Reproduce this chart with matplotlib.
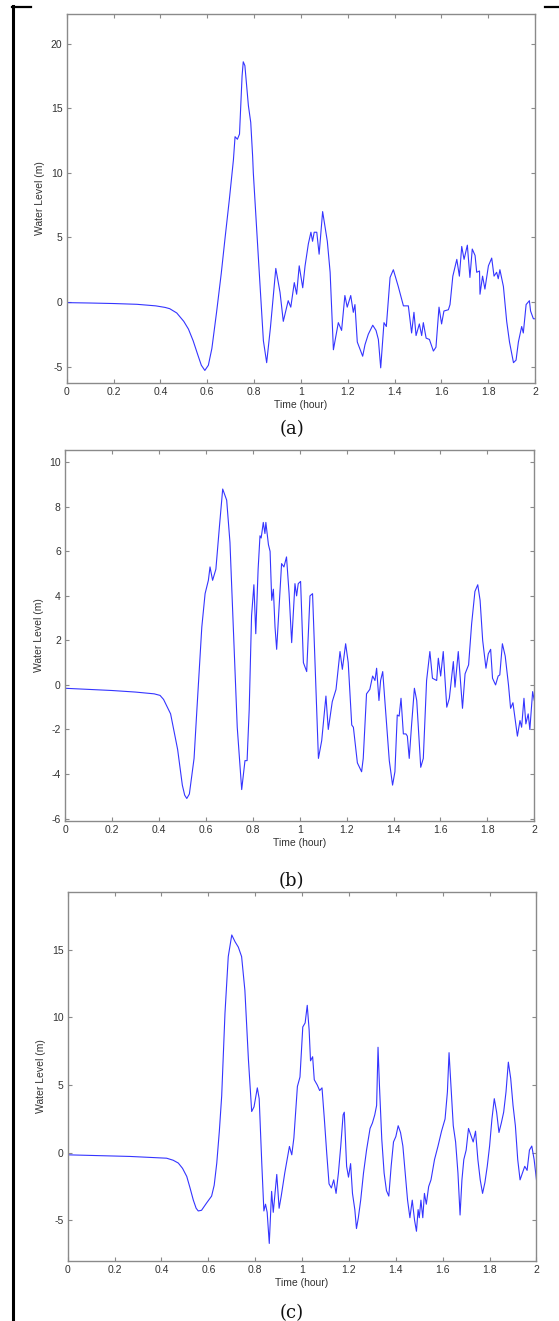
#!/usr/bin/env python3
"""Water level time series at three gauges, panels (a), (b), (c)."""

import matplotlib

matplotlib.use("Agg")
import matplotlib.pyplot as plt
from matplotlib.lines import Line2D

plt.rcParams["font.family"] = ["Liberation Sans", "DejaVu Sans"]
plt.rcParams["axes.unicode_minus"] = False

# ---- data (time in hours, water level in m) ----
t_a = [0.0, 0.1, 0.2, 0.3, 0.38, 0.42, 0.44, 0.47, 0.5, 0.52, 0.54, 0.56, 0.575,
       0.59, 0.605, 0.62, 0.64, 0.66, 0.676, 0.695, 0.712, 0.719, 0.729, 0.738,
       0.749, 0.754, 0.761, 0.776, 0.786, 0.794, 0.797, 0.82, 0.84, 0.854, 0.87,
       0.893, 0.911, 0.925, 0.946, 0.957, 0.972, 0.982, 0.993, 1.008, 1.018, 1.032,
       1.043, 1.05, 1.057, 1.068, 1.078, 1.093, 1.113, 1.125, 1.139, 1.16, 1.174,
       1.188, 1.198, 1.213, 1.224, 1.231, 1.241, 1.264, 1.274, 1.288, 1.307, 1.321,
       1.331, 1.341, 1.355, 1.365, 1.381, 1.395, 1.416, 1.438, 1.459, 1.473, 1.483,
       1.492, 1.506, 1.516, 1.523, 1.535, 1.549, 1.566, 1.577, 1.59, 1.601, 1.611,
       1.63, 1.637, 1.649, 1.666, 1.677, 1.687, 1.697, 1.711, 1.722, 1.732, 1.744,
       1.751, 1.763, 1.765, 1.776, 1.786, 1.801, 1.815, 1.825, 1.836, 1.843, 1.85,
       1.865, 1.879, 1.891, 1.908, 1.919, 1.929, 1.943, 1.95, 1.962, 1.976, 1.981,
       1.993, 2.0]
wl_a = [-0.05, -0.08, -0.12, -0.18, -0.3, -0.42, -0.52, -0.85, -1.5, -2.1, -3.0,
        -4.1, -4.9, -5.3, -4.9, -3.6, -0.8, 2.2, 4.9, 8.0, 11.0, 12.8, 12.6, 13.0,
        17.5, 18.6, 18.3, 15.2, 13.9, 11.3, 10.0, 3.0, -3.0, -4.7, -2.0, 2.6, 0.75,
        -1.5, 0.1, -0.4, 1.5, 0.6, 2.8, 1.1, 2.8, 4.5, 5.4, 4.7, 5.4, 5.4, 3.7, 7.0,
        4.7, 2.3, -3.7, -1.6, -2.2, 0.5, -0.4, 0.5, -0.8, -0.2, -3.1, -4.2, -3.3,
        -2.5, -1.8, -2.2, -2.9, -5.1, -1.6, -1.9, 1.9, 2.5, 1.2, -0.3, -0.3, -2.4,
        -0.8, -2.6, -1.7, -2.6, -1.6, -2.8, -2.9, -3.8, -3.5, -0.4, -1.7, -0.7, -0.6,
        -0.2, 2.0, 3.3, 2.0, 4.3, 3.3, 4.4, 1.9, 4.1, 3.6, 2.3, 2.4, 0.6, 2.0, 1.0,
        2.8, 3.4, 2.0, 2.3, 1.8, 2.5, 1.2, -1.5, -3.1, -4.7, -4.5, -3.1, -1.9, -2.4,
        -0.2, 0.1, -0.7, -1.3, -1.3]

t_b = [0.0, 0.2, 0.3, 0.38, 0.405, 0.42, 0.45, 0.48, 0.5, 0.51, 0.519, 0.53, 0.55,
       0.561, 0.583, 0.597, 0.611, 0.618, 0.629, 0.643, 0.658, 0.672, 0.689, 0.703,
       0.717, 0.734, 0.753, 0.767, 0.776, 0.785, 0.795, 0.805, 0.813, 0.823, 0.831,
       0.836, 0.845, 0.852, 0.856, 0.867, 0.874, 0.881, 0.888, 0.895, 0.902, 0.909,
       0.923, 0.933, 0.944, 0.955, 0.966, 0.98, 0.987, 0.994, 1.004, 1.016, 1.03,
       1.044, 1.055, 1.065, 1.08, 1.094, 1.112, 1.122, 1.139, 1.155, 1.172, 1.182,
       1.196, 1.207, 1.222, 1.229, 1.246, 1.264, 1.271, 1.285, 1.299, 1.311, 1.321,
       1.328, 1.338, 1.345, 1.354, 1.368, 1.382, 1.396, 1.406, 1.416, 1.424, 1.432,
       1.442, 1.453, 1.459, 1.467, 1.477, 1.489, 1.499, 1.516, 1.527, 1.541, 1.555,
       1.566, 1.584, 1.591, 1.601, 1.612, 1.627, 1.638, 1.655, 1.662, 1.676, 1.694,
       1.705, 1.72, 1.733, 1.747, 1.759, 1.769, 1.78, 1.794, 1.804, 1.814, 1.822,
       1.835, 1.846, 1.853, 1.864, 1.876, 1.89, 1.899, 1.909, 1.928, 1.939, 1.946,
       1.956, 1.964, 1.974, 1.981, 1.993, 2.0]
wl_b = [-0.15, -0.25, -0.32, -0.4, -0.47, -0.65, -1.3, -2.9, -4.5, -4.95, -5.1,
        -4.9, -3.3, -1.3, 2.6, 4.1, 4.7, 5.3, 4.7, 5.2, 7.1, 8.8, 8.3, 6.4, 2.6,
        -1.9, -4.7, -3.4, -3.4, -1.1, 3.1, 4.5, 2.3, 5.2, 6.7, 6.6, 7.3, 6.8, 7.3,
        6.3, 6.0, 3.8, 4.3, 2.6, 1.6, 2.9, 5.45, 5.3, 5.75, 4.1, 1.9, 4.55, 4.0,
        4.55, 4.65, 1.0, 0.6, 4.0, 4.1, 1.1, -3.3, -2.5, -0.5, -2.0, -0.75, -0.2,
        1.5, 0.7, 1.85, 1.0, -1.8, -1.9, -3.5, -3.9, -3.3, -0.4, -0.2, 0.4, 0.2,
        0.75, -0.7, 0.2, 0.6, -1.4, -3.4, -4.5, -3.9, -1.35, -1.4, -0.6, -2.2, -2.2,
        -2.3, -3.3, -1.8, -0.15, -0.7, -3.7, -3.3, 0.2, 1.5, 0.3, 0.2, 1.2, 0.4, 1.5,
        -1.0, -0.6, 1.05, -0.1, 1.5, -1.05, 0.5, 0.9, 2.75, 4.2, 4.5, 3.8, 2.0, 0.75,
        1.4, 1.6, 0.3, 0.0, 0.4, 0.45, 1.85, 1.3, 0.0, -1.05, -0.8, -2.3, -1.6, -1.9,
        -0.6, -1.75, -1.3, -2.0, -0.3, -0.7]

t_c = [0.0, 0.266, 0.422, 0.45, 0.472, 0.49, 0.508, 0.522, 0.536, 0.548, 0.557,
       0.571, 0.593, 0.614, 0.625, 0.636, 0.647, 0.657, 0.671, 0.685, 0.7, 0.714,
       0.728, 0.742, 0.756, 0.771, 0.785, 0.795, 0.809, 0.817, 0.828, 0.837, 0.844,
       0.851, 0.86, 0.87, 0.877, 0.892, 0.902, 0.911, 0.926, 0.946, 0.956, 0.965,
       0.98, 0.991, 1.003, 1.013, 1.022, 1.03, 1.036, 1.045, 1.052, 1.065, 1.075,
       1.085, 1.095, 1.105, 1.115, 1.125, 1.135, 1.145, 1.155, 1.165, 1.175, 1.18,
       1.19, 1.198, 1.207, 1.215, 1.225, 1.232, 1.24, 1.25, 1.262, 1.275, 1.29,
       1.30, 1.31, 1.318, 1.324, 1.33, 1.34, 1.35, 1.36, 1.37, 1.38, 1.39, 1.40,
       1.41, 1.42, 1.43, 1.44, 1.45, 1.46, 1.47, 1.48, 1.488, 1.495, 1.50, 1.507,
       1.515, 1.522, 1.53, 1.54, 1.55, 1.565, 1.58, 1.595, 1.61, 1.62, 1.627, 1.635,
       1.645, 1.655, 1.665, 1.674, 1.682, 1.69, 1.70, 1.71, 1.72, 1.73, 1.74, 1.75,
       1.76, 1.77, 1.78, 1.79, 1.80, 1.81, 1.82, 1.83, 1.84, 1.85, 1.86, 1.87, 1.88,
       1.89, 1.90, 1.91, 1.92, 1.93, 1.94, 1.95, 1.96, 1.97, 1.98, 1.99, 2.0]
wl_c = [-0.15, -0.27, -0.4, -0.55, -0.76, -1.15, -1.75, -2.6, -3.5, -4.1, -4.3,
        -4.25, -3.7, -3.2, -2.4, -0.76, 1.6, 4.2, 10.3, 14.5, 16.1, 15.6, 15.2,
        14.5, 12.0, 6.9, 3.05, 3.4, 4.8, 4.0, -0.76, -4.3, -3.8, -4.4, -6.7, -2.85,
        -4.4, -1.6, -4.1, -3.2, -1.5, 0.47, -0.15, 1.1, 4.9, 5.6, 9.3, 9.6, 10.9,
        9.1, 6.8, 7.1, 5.4, 5.0, 4.6, 4.8, 2.5, 0.0, -2.3, -2.6, -2.0, -3.0, -1.5,
        0.5, 2.8, 3.0, -1.0, -1.8, -0.8, -3.0, -4.2, -5.6, -4.8, -3.5, -1.5, 0.2,
        1.8, 2.2, 2.8, 3.5, 7.8, 5.0, 1.0, -1.5, -2.8, -3.2, -1.0, 0.8, 1.2, 2.0,
        1.5, 0.5, -1.5, -3.5, -4.8, -3.5, -5.0, -5.8, -4.2, -4.8, -3.5, -4.8, -3.0,
        -3.8, -2.5, -2.0, -0.5, 0.5, 1.6, 2.5, 4.5, 7.4, 5.0, 2.0, 0.8, -1.5, -4.6,
        -2.0, -0.5, 0.2, 1.8, 1.3, 0.8, 1.6, -0.5, -2.0, -3.0, -2.2, -1.0, 0.5, 2.5,
        4.0, 3.0, 1.5, 2.2, 3.0, 4.5, 6.7, 5.5, 3.5, 2.0, -0.5, -2.0, -1.5, -1.0,
        -1.3, 0.2, 0.5, -0.5, -2.0]

panels = ["(a)", "(b)", "(c)"]
y_ticks = [list(range(-5, 21, 5)), list(range(-6, 11, 2)), list(range(-5, 16, 5))]
y_lims = [(-6.25, 22.3), (-6.1, 10.55), (-8.0, 19.3)]
x_ticks = [0, 0.2, 0.4, 0.6, 0.8, 1, 1.2, 1.4, 1.6, 1.8, 2]

fig = plt.figure(figsize=(5.59, 13.21), dpi=100)

# axes rectangles in figure fractions: left, bottom, width, height
rects = [
    (0.1193, 0.7103, 0.8378, 0.2791),
    (0.1163, 0.3787, 0.8395, 0.2806),
    (0.1211, 0.0454, 0.8386, 0.2796),
]
series = [(t_a, wl_a), (t_b, wl_b), (t_c, wl_c)]
label_y = [429.5, 881.0, 1313.0]

for rect, (t, wl), yt, yl, tag, ly in zip(rects, series, y_ticks, y_lims, panels, label_y):
    ax = fig.add_axes(rect)
    ax.plot(t, wl, color="#3535ff", linewidth=0.8)
    ax.set_xlim(0, 2)
    ax.set_ylim(*yl)
    ax.set_xticks(x_ticks)
    ax.set_xticklabels([f"{v:g}" for v in x_ticks])
    ax.set_yticks(yt)
    for sp in ax.spines.values():
        sp.set_color("#8a8a8a")
        sp.set_linewidth(1.0)
    ax.tick_params(direction="in", length=3, width=0.8, color="#8a8a8a",
                   labelsize=7.5, labelcolor="#333333", top=True, right=True, pad=3)
    ax.set_xlabel("Time (hour)", fontsize=7.5, color="#333333", labelpad=2)
    ax.set_ylabel("Water Level (m)", fontsize=7.5, color="#333333", labelpad=4)
    fig.text(0.522, 1 - ly / 1321, tag, ha="center", va="center",
             fontsize=13, family="DejaVu Serif", color="#111111")

# black frame lines from the source document table
fig.add_artist(Line2D([13 / 559, 13 / 559], [0, 1 - 6 / 1321], color="black", linewidth=2.2))
fig.add_artist(Line2D([12 / 559, 31 / 559], [1 - 7 / 1321, 1 - 7 / 1321], color="black", linewidth=1.6))
fig.add_artist(Line2D([545 / 559, 1.0], [1 - 7 / 1321, 1 - 7 / 1321], color="black", linewidth=1.6))

fig.savefig("out.png", dpi=100)
